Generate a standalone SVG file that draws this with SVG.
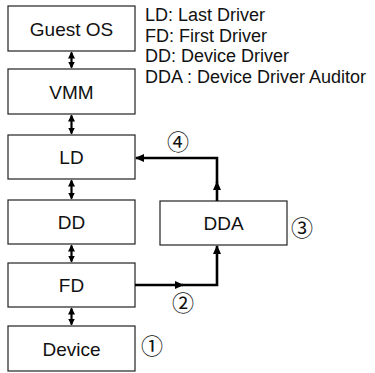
<svg xmlns="http://www.w3.org/2000/svg" width="375" height="373" viewBox="0 0 375 373">
<style>
.box{fill:#fff;stroke:#222;stroke-width:1.2}
.lbl{font-family:"Liberation Sans",Arial,sans-serif;font-size:19px;fill:#111;text-anchor:middle}
.leg{font-family:"Liberation Sans",Arial,sans-serif;font-size:18px;fill:#111}
.num{font-family:"Noto Sans CJK JP","DejaVu Sans",sans-serif;font-size:22px;fill:#111;text-anchor:middle}
.con{fill:none;stroke:#000;stroke-width:2.6}
.dbl{fill:none;stroke:#000;stroke-width:2.2}
</style>
<defs>
<marker id="ah" markerUnits="userSpaceOnUse" markerWidth="10" markerHeight="10" refX="8" refY="4" orient="auto-start-reverse">
<path d="M0,0 L9,4 L0,8 z" fill="#000"/>
</marker>
<marker id="sh" markerUnits="userSpaceOnUse" markerWidth="8" markerHeight="8" refX="6" refY="3.5" orient="auto-start-reverse">
<path d="M0,0 L7,3.5 L0,7 z" fill="#000"/>
</marker>
</defs>
<g id="legend">
<text class="leg" x="145" y="21">LD: Last Driver</text>
<text class="leg" x="145" y="41.5">FD: First Driver</text>
<text class="leg" x="145" y="62">DD: Device Driver</text>
<text class="leg" x="145" y="82.5">DDA : Device Driver Auditor</text>
</g>
<g id="guestos"><rect class="box" x="8" y="6" width="127" height="45"/><text class="lbl" x="71.5" y="35.5">Guest OS</text></g>
<g id="vmm"><rect class="box" x="8" y="69" width="127" height="45"/><text class="lbl" x="71.5" y="98.5">VMM</text></g>
<g id="ld"><rect class="box" x="8" y="135" width="127" height="44"/><text class="lbl" x="71.5" y="164">LD</text></g>
<g id="dd"><rect class="box" x="8" y="200" width="127" height="44"/><text class="lbl" x="71.5" y="229">DD</text></g>
<g id="fd"><rect class="box" x="8" y="263" width="127" height="44"/><text class="lbl" x="71.5" y="292">FD</text></g>
<g id="device"><rect class="box" x="8" y="326" width="127" height="45"/><text class="lbl" x="71.5" y="355.5">Device</text></g>
<g id="dda"><rect class="box" x="160" y="201" width="127" height="44"/><text class="lbl" x="223.5" y="230">DDA</text></g>
<g id="connectors">
<path class="dbl" d="M71.5,52.5 V67.5" marker-start="url(#sh)" marker-end="url(#sh)"/>
<path class="dbl" d="M71.5,115.5 V133.5" marker-start="url(#sh)" marker-end="url(#sh)"/>
<path class="dbl" d="M71.5,180.5 V198.5" marker-start="url(#sh)" marker-end="url(#sh)"/>
<path class="dbl" d="M71.5,245.5 V261.5" marker-start="url(#sh)" marker-end="url(#sh)"/>
<path class="dbl" d="M71.5,308.5 V324.5" marker-start="url(#sh)" marker-end="url(#sh)"/>
<path class="con" d="M135,285 H183" marker-end="url(#ah)"/>
<path class="con" d="M182,285 H217 V246" marker-end="url(#ah)"/>
<path class="con" d="M217,201 V182" marker-end="url(#ah)"/>
<path class="con" d="M217,183 V158 H136" marker-end="url(#ah)"/>
</g>
<g id="numbers">
<text class="num" x="178" y="149.5">④</text>
<text class="num" x="183" y="310.5">②</text>
<text class="num" x="302" y="235.5">③</text>
<text class="num" x="152" y="353.5">①</text>
</g>
</svg>
